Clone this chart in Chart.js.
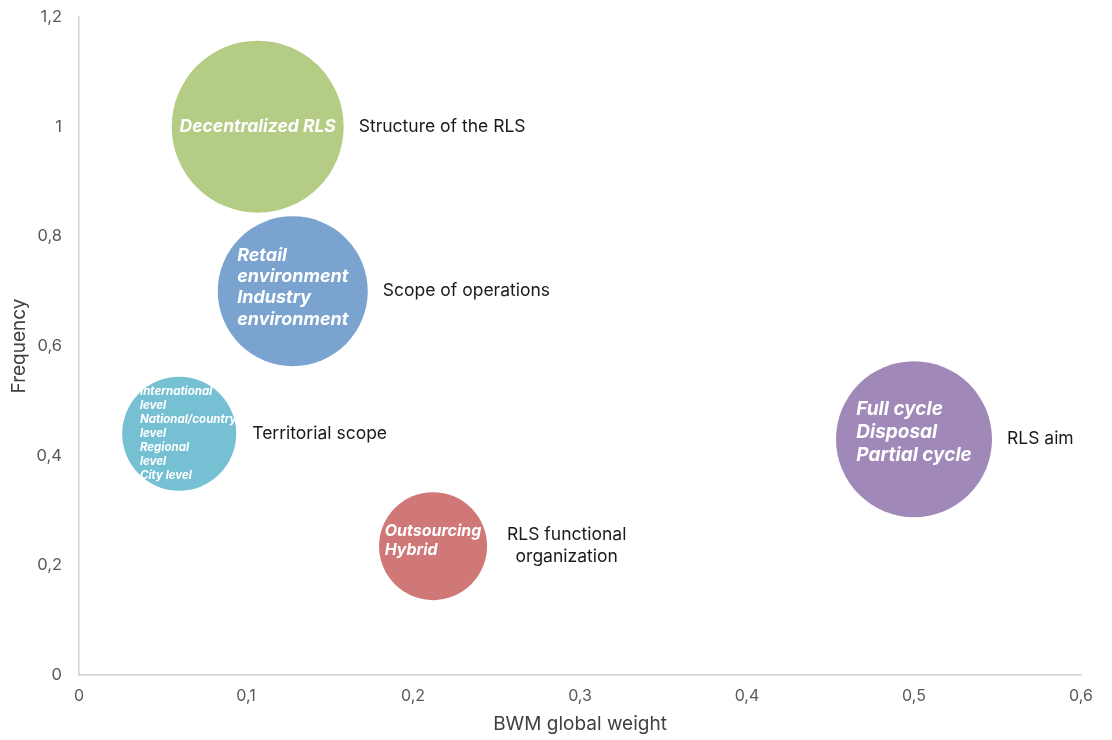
<!DOCTYPE html>
<html>
<head>
<meta charset="utf-8">
<script src="https://cdn.jsdelivr.net/npm/chart.js@4.4.1/dist/chart.umd.min.js"></script>
<style>
    body { margin: 0; background: #fff; }
</style>
</head>
<body>
<canvas id="grafico" width="1112" height="740"></canvas>
<script>
// datos
const grupos = ['Structure of the RLS', 'Scope of operations', 'Territorial scope', 'RLS functional organization', 'RLS aim'];
const pesoGlobal = [0.107, 0.128, 0.060, 0.212, 0.500];
const frecuencia = [1.0, 0.70, 0.44, 0.235, 0.43];
const tamano = [86, 75, 57, 54, 78];
const opciones = [
    ['Decentralized RLS'],
    ['Retail', 'environment', 'Industry', 'environment'],
    ['International', 'level', 'National/country', 'level', 'Regional', 'level', 'City level'],
    ['Outsourcing', 'Hybrid'],
    ['Full cycle', 'Disposal', 'Partial cycle']
];
const etiquetasDerecha = [
    ['Structure of the RLS'],
    ['Scope of operations'],
    ['Territorial scope'],
    ['RLS functional', 'organization'],
    ['RLS aim']
];
const xTicks = [0, 0.1, 0.2, 0.3, 0.4, 0.5, 0.6];
const yTicks = [0, 0.2, 0.4, 0.6, 0.8, 1, 1.2];

// estilos de las etiquetas
const colores = ['#b4cc84', '#7ba3cf', '#76c0d4', '#cf7877', '#a089b8'];
const tamFuente = [17.5, 18, 11.5, 16, 19];
const alturaLinea = [21, 21.3, 14, 19, 23];
const desplX = [0, 0, 9, 0, 0];
const desplY = [0, -4, 0, -5, -7];
const separacionDer = [15, 15, 16, 20, 15];

const fuente = 'Inter, "DejaVu Sans", sans-serif';

function formatoComa(v) {
    return String(Math.round(v * 10) / 10).replace('.', ',');
}

const etiquetasPlugin = {
    id: 'etiquetas',
    afterDatasetsDraw(chart) {
        const ctx = chart.ctx;
        const meta = chart.getDatasetMeta(0);
        meta.data.forEach((punto, i) => {
            const r = punto.options.radius;
            ctx.save();
            // texto dentro de la burbuja
            ctx.font = `italic bold ${tamFuente[i]}px ${fuente}`;
            ctx.fillStyle = '#ffffff';
            ctx.textBaseline = 'middle';
            ctx.textAlign = 'left';
            const lineas = opciones[i];
            const anchoMax = Math.max(...lineas.map(l => ctx.measureText(l).width));
            const x0 = punto.x - anchoMax / 2 + desplX[i];
            const y0 = punto.y + desplY[i] - (lineas.length - 1) * alturaLinea[i] / 2;
            lineas.forEach((l, k) => ctx.fillText(l, x0, y0 + k * alturaLinea[i]));

            // etiqueta a la derecha
            ctx.font = `17.5px ${fuente}`;
            ctx.fillStyle = '#1a1a1a';
            const der = etiquetasDerecha[i];
            const anchoDer = Math.max(...der.map(l => ctx.measureText(l).width));
            const xd = punto.x + r + separacionDer[i];
            ctx.textAlign = 'center';
            const yd = punto.y - (der.length - 1) * 22 / 2;
            der.forEach((l, k) => ctx.fillText(l, xd + anchoDer / 2, yd + k * 22));
            ctx.restore();
        });
    }
};

const ctx = document.getElementById('grafico').getContext('2d');
new Chart(ctx, {
    type: 'bubble',
    data: {
        datasets: [{
            label: 'Grupos',
            data: grupos.map((g, i) => ({ x: pesoGlobal[i], y: frecuencia[i], r: tamano[i] })),
            backgroundColor: colores,
            borderWidth: 0,
            clip: false
        }]
    },
    options: {
        responsive: false,
        animation: false,
        events: [],
        layout: { autoPadding: false, padding: { top: 17, right: 31, left: 0, bottom: 0 } },
        plugins: {
            legend: { display: false },
            tooltip: { enabled: false }
        },
        scales: {
            x: {
                type: 'linear',
                min: 0,
                max: 0.6,
                afterBuildTicks: scale => { scale.ticks = xTicks.map(v => ({ value: v })); },
                afterFit: scale => { scale.height = 65; },
                grid: { display: false, drawTicks: false },
                border: { display: true, color: '#d0d0d0', width: 1.5 },
                ticks: {
                    padding: 12,
                    color: '#595959',
                    font: { family: fuente, size: 16 },
                    callback: v => formatoComa(v)
                },
                title: {
                    display: true,
                    text: 'BWM global weight',
                    color: '#404040',
                    font: { family: fuente, size: 19 },
                    padding: { top: 4, bottom: 4 }
                }
            },
            y: {
                type: 'linear',
                min: 0,
                max: 1.2,
                afterBuildTicks: scale => { scale.ticks = yTicks.map(v => ({ value: v })); },
                afterFit: scale => { scale.width = 79; },
                grid: { display: false, drawTicks: true, tickLength: 14 },
                border: { display: true, color: '#d0d0d0', width: 1.5 },
                ticks: {
                    padding: 3,
                    color: '#595959',
                    font: { family: fuente, size: 16.5 },
                    callback: v => formatoComa(v)
                },
                title: {
                    display: true,
                    text: 'Frequency',
                    color: '#404040',
                    font: { family: fuente, size: 19 },
                    padding: { top: 8, bottom: 4 }
                }
            }
        }
    },
    plugins: [etiquetasPlugin]
});
</script>
</body>
</html>
